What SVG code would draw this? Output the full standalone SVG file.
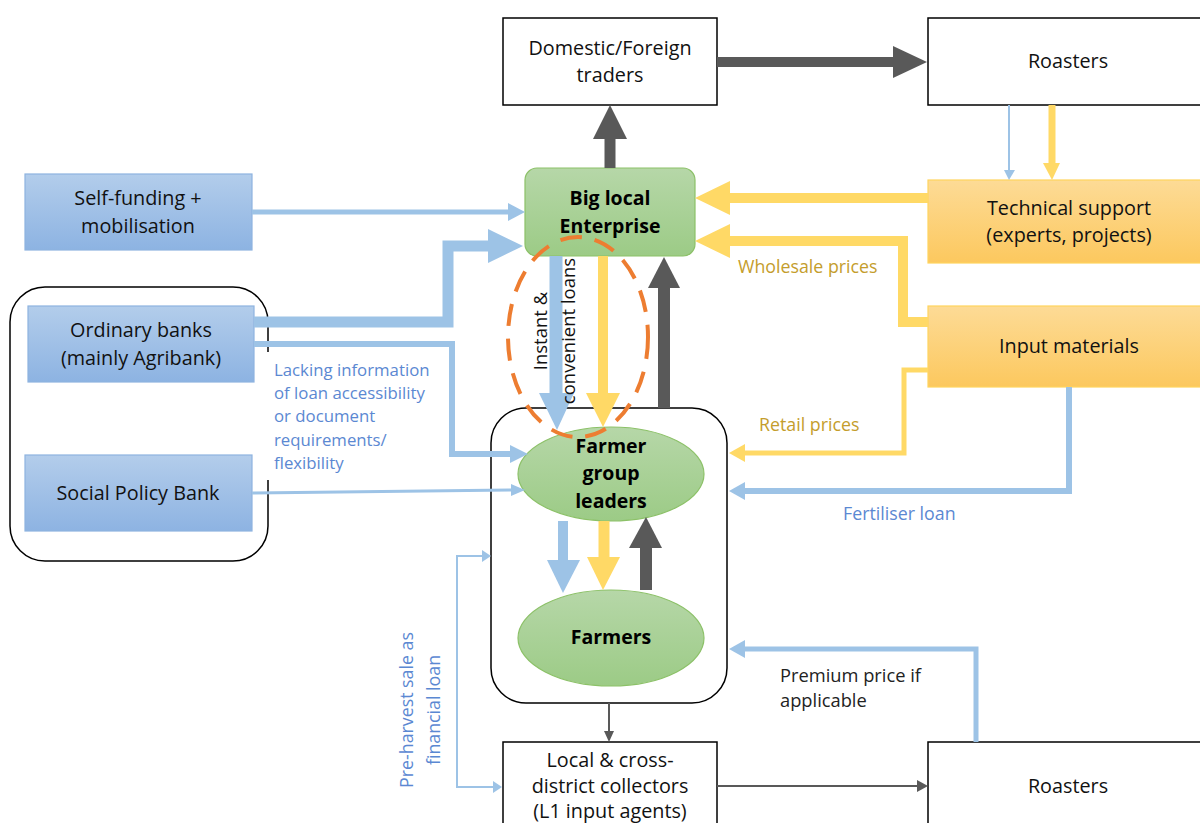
<svg xmlns="http://www.w3.org/2000/svg" width="1200" height="823" viewBox="0 0 1200 823">
<defs>
<linearGradient id="gBlue" x1="0" y1="0" x2="0" y2="1"><stop offset="0" stop-color="#b3cdeb"/><stop offset="1" stop-color="#8db3e2"/></linearGradient>
<linearGradient id="gGreen" x1="0" y1="0" x2="0" y2="1"><stop offset="0" stop-color="#b6d7a8"/><stop offset="1" stop-color="#9ccb86"/></linearGradient>
<linearGradient id="gOrange" x1="0" y1="0" x2="0" y2="1"><stop offset="0" stop-color="#fddb96"/><stop offset="1" stop-color="#fcc85e"/></linearGradient>
<style>
text{font-family:"Open Sans","Liberation Sans",sans-serif;}
.box{fill:#fff;stroke:#000;stroke-width:1.5;}
.bluebox{fill:url(#gBlue);stroke:#8eb3df;stroke-width:1.2;}
.greenbox{fill:url(#gGreen);stroke:#8cc168;stroke-width:1.2;}
.orangebox{fill:url(#gOrange);stroke:#ffd45e;stroke-width:1.2;}
.cont{fill:none;stroke:#000;stroke-width:1.5;}
.lbl{font-size:19.8px;fill:#111;text-anchor:middle;}
.bold{font-size:19.5px;font-weight:bold;fill:#000;text-anchor:middle;}
.blue-t{font-size:16.8px;fill:#5b88d2;}
.blue-f{font-size:17.8px;fill:#5b88d2;}
.gold-t{font-size:17.8px;fill:#c49d2c;}
.dark-t{font-size:18.3px;fill:#222;}
.rot-t{font-size:18.5px;fill:#111;text-anchor:middle;}
.rot-b{font-size:17.8px;fill:#5b88d2;text-anchor:middle;}
.sb{fill:none;stroke:#9dc3e6;stroke-linejoin:miter;}
.sy{fill:none;stroke:#ffd966;stroke-linejoin:miter;}
.sd{fill:none;stroke:#595959;stroke-linejoin:miter;}
.hb{fill:#9dc3e6;}
.hy{fill:#ffd966;}
.hd{fill:#595959;}
.oval{fill:none;stroke:#ed7d31;stroke-width:4;stroke-dasharray:22 13;}
</style>
</defs>
<rect width="1200" height="823" fill="#fff"/>

<g id="containers">
<rect id="bank-group" class="cont" x="10" y="287" width="258" height="274" rx="35"/>
<rect id="farmer-group" class="cont" x="491" y="408" width="236" height="295" rx="35"/>
</g>

<g id="traders"><rect class="box" x="503" y="18" width="214" height="87"/>
<text class="lbl" x="610" y="55">Domestic/Foreign</text><text class="lbl" x="610" y="82">traders</text></g>
<g id="roasters-top"><rect class="box" x="928" y="18" width="300" height="87"/>
<text class="lbl" x="1068" y="68">Roasters</text></g>
<g id="self-funding"><rect class="bluebox" x="25" y="174" width="227" height="76"/>
<text class="lbl" x="138" y="205">Self-funding +</text><text class="lbl" x="138" y="233">mobilisation</text></g>
<g id="ordinary-banks"><rect class="bluebox" x="28" y="306" width="226" height="76"/>
<text class="lbl" x="141" y="337">Ordinary banks</text><text class="lbl" x="141" y="365">(mainly Agribank)</text></g>
<g id="social-bank"><rect class="bluebox" x="25" y="455" width="227" height="76"/>
<text class="lbl" x="138" y="500">Social Policy Bank</text></g>
<g id="big-local"><rect class="greenbox" x="525" y="168" width="170" height="88" rx="12"/>
<text class="bold" x="610" y="205">Big local</text><text class="bold" x="610" y="233">Enterprise</text></g>
<g id="technical"><rect class="orangebox" x="928" y="180" width="300" height="83"/>
<text class="lbl" x="1069" y="215">Technical support</text><text class="lbl" x="1069" y="242">(experts, projects)</text></g>
<g id="input"><rect class="orangebox" x="928" y="306" width="300" height="81"/>
<text class="lbl" x="1069" y="353">Input materials</text></g>
<g id="fgl"><ellipse class="greenbox" cx="611" cy="474" rx="93" ry="47"/>
<text class="bold" x="611" y="453">Farmer</text><text class="bold" x="611" y="480">group</text><text class="bold" x="611" y="508">leaders</text></g>
<g id="farmers"><ellipse class="greenbox" cx="611" cy="638" rx="93" ry="48"/>
<text class="bold" x="611" y="644">Farmers</text></g>
<g id="collectors"><rect class="box" x="503" y="742" width="214" height="100"/>
<text class="lbl" x="610" y="767">Local &amp; cross-</text><text class="lbl" x="610" y="793">district collectors</text><text class="lbl" x="610" y="818">(L1 input agents)</text></g>
<g id="roasters-bottom"><rect class="box" x="928" y="742" width="300" height="100"/>
<text class="lbl" x="1068" y="793">Roasters</text></g>

<g id="connectors">
<line class="sd" x1="717" y1="62" x2="895" y2="62" stroke-width="10"/><polygon class="hd" points="893,46 927,62 893,78"/>
<line class="sd" x1="610" y1="168" x2="610" y2="137" stroke-width="11"/><polygon class="hd" points="593,139 610,105 627,139"/>
<line class="sb" x1="252" y1="212" x2="510" y2="212" stroke-width="5"/><polygon class="hb" points="508,203 525,212 508,221"/>
<polyline class="sb" points="254,322 448,322 448,246 490,246" stroke-width="11"/><polygon class="hb" points="488,229 523,246 488,263"/>
<polyline class="sb" points="254,344 452,344 452,454 512,454" stroke-width="6"/><polygon class="hb" points="510,445 528,454 510,463"/>
<line class="sb" x1="252" y1="493" x2="512" y2="490" stroke-width="3"/><polygon class="hb" points="511,484 525,490 511,496"/>
<line class="sb" x1="556" y1="256" x2="556" y2="395" stroke-width="13"/><polygon class="hb" points="539,393 557,430 574,393"/>
<line class="sy" x1="603" y1="256" x2="603" y2="395" stroke-width="10"/><polygon class="hy" points="586,393 603,427 620,393"/>
<line class="sd" x1="664" y1="408" x2="664" y2="286" stroke-width="12"/><polygon class="hd" points="648,288 664,257 680,288"/>
<line class="sb" x1="563" y1="521" x2="563" y2="562" stroke-width="10"/><polygon class="hb" points="547,560 563,593 580,560"/>
<line class="sy" x1="604" y1="521" x2="604" y2="559" stroke-width="11"/><polygon class="hy" points="587,557 603,590 620,557"/>
<line class="sd" x1="646" y1="590" x2="646" y2="546" stroke-width="12"/><polygon class="hd" points="629,548 646,517 662,548"/>
<line class="sb" x1="1009" y1="105" x2="1009" y2="172" stroke-width="2"/><polygon class="hb" points="1004,170 1009,180 1015,170"/>
<line class="sy" x1="1052" y1="105" x2="1052" y2="165" stroke-width="7"/><polygon class="hy" points="1043,163 1052,180 1060,163"/>
<line class="sy" x1="928" y1="198" x2="728" y2="198" stroke-width="10"/><polygon class="hy" points="730,181 695,198 730,215"/>
<polyline class="sy" points="928,322 903,322 903,241 728,241" stroke-width="10"/><polygon class="hy" points="730,224 695,241 730,258"/>
<polyline class="sy" points="928,370 904,370 904,453 743,453" stroke-width="5"/><polygon class="hy" points="745,444 729,453 745,462"/>
<polyline class="sb" points="1069,387 1069,491 743,491" stroke-width="6"/><polygon class="hb" points="745,482 729,491 745,500"/>
<line class="sd" x1="609" y1="703" x2="609" y2="733" stroke-width="2"/><polygon class="hd" points="604,731 609,742 614,731"/>
<line class="sd" x1="717" y1="786" x2="918" y2="786" stroke-width="2"/><polygon class="hd" points="917,780 928,786 917,792"/>
<polyline class="sb" points="976,742 976,649 743,649" stroke-width="5"/><polygon class="hb" points="745,640 729,649 745,658"/>
<polyline class="sb" points="483,556 457,556 457,787 494,787" stroke-width="2"/><polygon class="hb" points="482,550 491,556 482,562"/><polygon class="hb" points="493,781 502,787 493,793"/>
</g>

<ellipse id="focus-oval" class="oval" cx="578" cy="337" rx="70" ry="100"/>

<g id="labels">
<rect x="266" y="352" width="178" height="128" fill="#fff"/>
<text class="blue-t" x="274" y="376">Lacking information</text>
<text class="blue-t" x="274" y="399">of loan accessibility</text>
<text class="blue-t" x="274" y="422">or document</text>
<text class="blue-t" x="274" y="446">requirements/</text>
<text class="blue-t" x="274" y="469">flexibility</text>
<text class="gold-t" x="738" y="273">Wholesale prices</text>
<text class="gold-t" x="759" y="431">Retail prices</text>
<text class="blue-f" x="843" y="520">Fertiliser loan</text>
<text class="dark-t" x="780" y="682">Premium price if</text>
<text class="dark-t" x="780" y="707">applicable</text>
<text class="rot-t" transform="translate(547,331) rotate(-90)">Instant &amp;</text>
<text class="rot-t" transform="translate(575,331) rotate(-90)">convenient loans</text>
<text class="rot-b" transform="translate(413,710) rotate(-90)">Pre-harvest sale as</text>
<text class="rot-b" transform="translate(440,710) rotate(-90)">financial loan</text>
</g>
</svg>
